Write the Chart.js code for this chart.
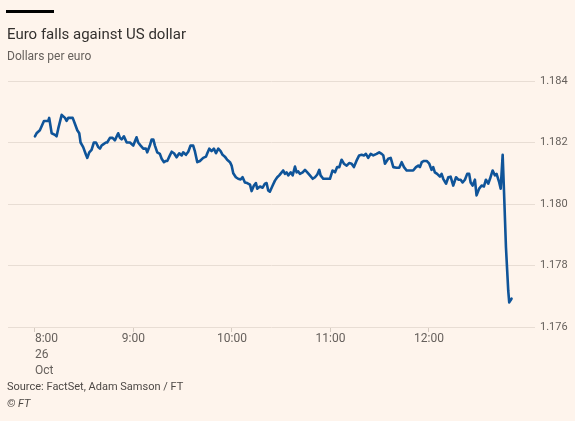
<!DOCTYPE html>
<html lang="en">
<head>
<meta charset="utf-8">
<title>Euro falls against US dollar</title>
<script src="https://cdn.jsdelivr.net/npm/chart.js@4.4.1/dist/chart.umd.min.js"></script>
<style>
  html, body { margin: 0; padding: 0; background: #FEF4EC; }
  #wrap { position: relative; width: 575px; height: 421px; overflow: hidden; font-family: Roboto, sans-serif; }
  #bar { position: absolute; left: 6px; top: 10px; width: 48px; height: 3px; background: #000; }
  #title { position: absolute; left: 7px; top: 24px; font-size: 15px; line-height: 20px; color: #33302E; }
  #sub { position: absolute; left: 7px; top: 48px; font-size: 12px; line-height: 16px; color: #66605C; }
  #source { position: absolute; left: 7px; top: 379px; font-size: 11px; line-height: 16px; color: #4D4845; }
  #copy { position: absolute; left: 7px; top: 396px; font-size: 11px; line-height: 16px; color: #4D4845; font-style: italic; }
  canvas { position: absolute; left: 0; top: 0; }
</style>
</head>
<body>
<div id="wrap">
  <canvas id="chart" width="575" height="421"></canvas>
  <div id="bar"></div>
  <div id="title">Euro falls against US dollar</div>
  <div id="sub">Dollars per euro</div>
  <div id="source">Source: FactSet, Adam Samson / FT</div>
  <div id="copy">© FT</div>
</div>
<script>
// minutes after 8:00 (London), 26 Oct
const minutes = [
  0, 1, 3, 5.5, 8.1, 8.7, 10.2, 12.2, 13.2, 14.2,
  16.3, 18.3, 19.3, 20.3, 21.7, 23, 24.4, 25.8, 27, 27.8,
  29.4, 31.1, 31.9, 33.1, 34.5, 35.9, 37.2, 38.6, 39.6, 40.6,
  41.6, 43.2, 44, 45.7, 47.3, 48.7, 50.7, 51.8, 52.8, 54.2,
  55.9, 57.9, 59.9, 61.9, 62.9, 64.4, 66, 67.6, 68.4, 70,
  71.1, 72.1, 73.1, 74.5, 76.1, 77.2, 78.6, 79.8, 80.6, 82.2,
  83.3, 84.7, 86.3, 87.9, 89.4, 90.3, 92, 93.4, 94.8, 96.4,
  97.5, 98.9, 100.5, 102.5, 104.2, 105, 106.2, 107.6, 109, 110.3,
  111.7, 113.1, 114.3, 115.7, 117.1, 118.8, 119.8, 120.8, 122.4, 123.8,
  125.3, 126.5, 127.9, 129.3, 131, 132, 133.4, 134.6, 135.4, 137.1,
  138.7, 140.1, 141.1, 142.1, 143.1, 144.8, 146.2, 147.6, 148.8, 150.3,
  151.2, 152.3, 153.3, 154.3, 155.8, 157, 158.4, 159.4, 160.4, 161.4,
  163.1, 164.5, 165.9, 167.5, 169.2, 170.6, 172, 173.2, 174, 175.6,
  177.7, 179.7, 181.3, 182.8, 184.1, 185.4, 186.8, 188.2, 189.9, 191.4,
  192.9, 194.3, 195.9, 197.5, 199, 200.4, 201.6, 203, 204.5, 206.1,
  208.1, 209.7, 211.2, 212.2, 213.2, 215.2, 216.7, 218.3, 220.3, 221.9,
  223.4, 224.8, 226.4, 227.8, 229.5, 230.4, 232.1, 233.5, 234.5, 235.6,
  237, 238.6, 240.2, 241.6, 242.6, 243.6, 245, 246.7, 247.7, 248.7,
  250.4, 251.8, 253.2, 254.8, 256.5, 257.9, 259.3, 260.5, 261.9, 263.3,
  264.5, 265.4, 266.6, 268, 269, 270.6, 272.1, 273.5, 274.7, 276.1,
  277.2, 278.8, 280.2, 281.2, 282.8, 283.7, 284.9, 285.7, 286.9, 288.3,
  288.9, 290.3
];

// dollars per euro
const rates = [
  1.1822, 1.1823, 1.1824, 1.1827, 1.1827, 1.1828, 1.1823, 1.18225, 1.1822, 1.18245,
  1.1829, 1.1828, 1.1827, 1.1828, 1.1828, 1.1828, 1.1826, 1.1824, 1.1823, 1.1820,
  1.18185, 1.1816, 1.1815, 1.18168, 1.18176, 1.1820, 1.1820, 1.18185, 1.1818, 1.1819,
  1.18194, 1.1820, 1.1820, 1.18215, 1.18215, 1.18207, 1.1823, 1.18215, 1.1821, 1.1822,
  1.1820, 1.1820, 1.1819, 1.18217, 1.1820, 1.1819, 1.1818, 1.1818, 1.18168, 1.1819,
  1.1821, 1.1821, 1.1819, 1.18168, 1.18163, 1.18147, 1.18136, 1.1814, 1.1814, 1.18158,
  1.1817, 1.18165, 1.18152, 1.18165, 1.18158, 1.18168, 1.1816, 1.1817, 1.1819, 1.1819,
  1.1817, 1.18136, 1.1814, 1.1815, 1.18154, 1.18165, 1.1818, 1.18172, 1.1818, 1.18165,
  1.1818, 1.18172, 1.1816, 1.18154, 1.18144, 1.18136, 1.18125, 1.1810, 1.18087, 1.18082,
  1.1808, 1.18087, 1.1807, 1.18068, 1.18063, 1.18042, 1.1806, 1.18068, 1.1805, 1.18057,
  1.18053, 1.18066, 1.18068, 1.18044, 1.1804, 1.1806, 1.18076, 1.18087, 1.18093, 1.18103,
  1.18109, 1.18098, 1.18103, 1.18093, 1.18103, 1.18093, 1.18122, 1.18103, 1.18106, 1.18098,
  1.18103, 1.18111, 1.18103, 1.18093, 1.18082, 1.18087, 1.18096, 1.18111, 1.18093, 1.18082,
  1.18082, 1.18082, 1.18109, 1.18103, 1.1812, 1.1812, 1.18144, 1.18131, 1.18125, 1.18133,
  1.18131, 1.1812, 1.18141, 1.18158, 1.1816, 1.18158, 1.18163, 1.1815, 1.18163, 1.18158,
  1.18163, 1.18168, 1.18163, 1.18158, 1.18131, 1.18147, 1.1815, 1.1812, 1.18118, 1.18118,
  1.18136, 1.1812, 1.18109, 1.18109, 1.18109, 1.18109, 1.1812, 1.18125, 1.1812, 1.18136,
  1.1814, 1.1814, 1.18131, 1.18111, 1.1812, 1.18103, 1.18098, 1.18089, 1.18098, 1.18082,
  1.18066, 1.18087, 1.18089, 1.1806, 1.18087, 1.18079, 1.18079, 1.1807, 1.18079, 1.18098,
  1.18098, 1.1807, 1.1806, 1.18079, 1.18028, 1.1805, 1.1806, 1.18057, 1.18079, 1.18066,
  1.18082, 1.18109, 1.18093, 1.18098, 1.1807, 1.1805, 1.1816, 1.18044, 1.1786, 1.17718,
  1.1768, 1.17692
];

const hourTicks = [0, 60, 120, 180, 240];
const hourLabels = [['8:00', '26', 'Oct'], ['9:00'], ['10:00'], ['11:00'], ['12:00']];
const rateTicks = [1.176, 1.178, 1.180, 1.182, 1.184];

const labelFont = '12px Roboto, sans-serif';
const labelColor = '#66605C';

// FT puts the first (multi-line) date label flush left on its tick
const hourLabelPlugin = {
  id: 'hourLabels',
  afterDraw(chart) {
    const ctx = chart.ctx;
    const x = chart.scales.x;
    ctx.save();
    ctx.font = labelFont;
    ctx.fillStyle = labelColor;
    ctx.textBaseline = 'middle';
    hourTicks.forEach((v, i) => {
      const px = x.getPixelForValue(v);
      ctx.textAlign = i === 0 ? 'left' : 'center';
      hourLabels[i].forEach((t, j) => ctx.fillText(t, px, x.top + 12 + j * 16));
    });
    ctx.restore();
  }
};

new Chart(document.getElementById('chart'), {
  type: 'line',
  data: {
    datasets: [{
      data: minutes.map((m, i) => ({ x: m, y: rates[i] })),
      borderColor: '#0F5499',
      borderWidth: 2.6,
      pointRadius: 0,
      tension: 0,
      borderJoinStyle: 'round',
      borderCapStyle: 'round'
    }]
  },
  options: {
    responsive: false,
    animation: false,
    layout: { padding: { left: 8, top: 81, right: 0, bottom: 0 } },
    plugins: { legend: { display: false }, tooltip: { enabled: false } },
    scales: {
      x: {
        type: 'linear',
        min: -16.4,
        max: 304.6,
        afterBuildTicks: s => { s.ticks = hourTicks.map(v => ({ value: v })); },
        afterFit: s => { s.height = 94; },
        ticks: { display: false },
        border: { display: false },
        grid: { drawOnChartArea: false, drawTicks: true, tickLength: 5, color: '#D6CBC1' }
      },
      y: {
        position: 'right',
        min: 1.176,
        max: 1.184,
        afterBuildTicks: s => { s.ticks = rateTicks.map(v => ({ value: v })); },
        afterFit: s => { s.width = 40; },
        ticks: {
          padding: 5,
          font: { family: 'Roboto, sans-serif', size: 11 },
          color: labelColor,
          callback: v => v.toFixed(3)
        },
        border: { display: false },
        grid: { drawTicks: false, color: '#E8DDD4' }
      }
    }
  },
  plugins: [hourLabelPlugin]
});
</script>
</body>
</html>
